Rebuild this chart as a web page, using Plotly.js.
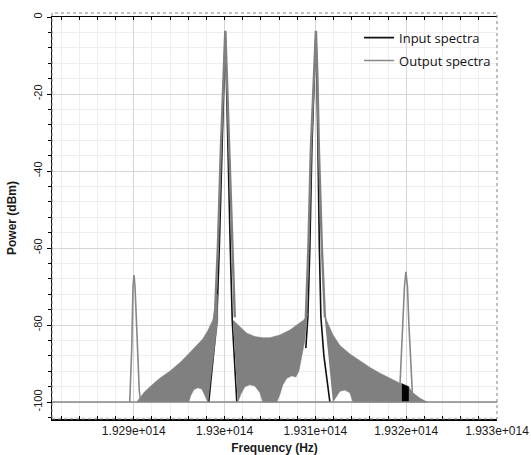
<!DOCTYPE html>
<html>
<head>
<meta charset="utf-8">
<script src="https://cdn.plot.ly/plotly-3.0.1.min.js"></script>
<style>html,body{margin:0;padding:0;background:#fff;}#chart{width:531px;height:455px;}</style>
</head>
<body>
<div id="chart"></div>
<script>
// ---- Data (frequency in THz, power in dBm) ----
// Input spectra: two pump lines (left and right), separated by null
const inputPeakFreqTHz = [192.9826,192.9915,192.9942,192.9970,192.9992,193.0008,193.0019,193.0036,193.0063,193.0085,193.0135, null,
  193.0895,193.0917,193.0939,193.0961,193.0989,193.1006,193.1017,193.1028,193.1044,193.1061,193.1094,193.1160];
const inputPeakPower = [-100,-79,-60,-34.5,-15,-4,-15,-34.5,-60,-79,-100, null,
  -86,-78,-60,-34.5,-15,-4,-15,-34.5,-60,-78,-88,-100];
// Input spectra residual near 1.932e14
const inputBlockFreqTHz = [193.1948,193.1948,193.2030,193.2030];
const inputBlockPower = [-100,-95.2,-96.0,-100];

// Output spectra: noise / mixing floor outlines (regions, null separated)
const outputNoiseFreqTHz = [
  192.9033,192.9121,192.9209,192.9287,192.9397,192.9507,192.9584,192.9672,192.9760,192.9815,192.9871,192.9904,192.9920,
  192.9926,192.9871,192.9815,192.9782,192.9749,192.9705,192.9661,192.9628,192.9606, null,
  193.0091,193.0168,193.0245,193.0333,193.0421,193.0499,193.0609,193.0719,193.0796,193.0873,193.0912,
  193.0884,193.0851,193.0818,193.0785,193.0741,193.0686,193.0642,193.0609,193.0576,193.0421,193.0388,193.0333,193.0278,193.0223,193.0179,193.0146, null,
  193.1094,193.1127,193.1193,193.1270,193.1380,193.1490,193.1601,193.1711,193.1821,193.1948,
  193.1948,193.1413,193.1380,193.1325,193.1270,193.1226,193.1193, null,
  193.2030,193.2074,193.2152,193.2229,193.2030];
const outputNoisePower = [
  -100,-97.3,-95.4,-93.8,-92,-89.8,-88,-85.8,-83.6,-81.5,-78.7,-74,-72,
  -79,-90,-100,-98.2,-96.6,-96.3,-96.8,-98.3,-100, null,
  -78.7,-80.5,-82.1,-83,-83.3,-83.3,-82.6,-81.3,-80,-78.7,-77,
  -84,-88,-92,-93.5,-93.2,-93.8,-95.5,-98,-100,-100,-97.5,-95.8,-95.5,-96,-98,-100, null,
  -76,-79,-82.5,-85.3,-87.5,-89.3,-91,-92.5,-93.9,-95.3,
  -100,-100,-97.6,-96.9,-97.2,-98.8,-100, null,
  -96.2,-97.6,-99,-100,-100];

// Output spectra lines: floor and idler (FWM) products
const outputLineFreqTHz = [192.81,193.30, null,
  192.8956,192.8978,192.8992,192.9003,192.9014,192.9028,192.9044,192.9061,192.9077, null,
  193.1931,193.1953,193.1981,193.1997,193.2014,193.2030,193.2052,193.2069];
const outputLinePower = [-100,-100, null,
  -100,-86,-70,-67,-70,-79,-90,-97,-100, null,
  -96,-85,-70,-66.2,-70,-80,-92,-98];
// Output spectra pump flanks
const outputPeakFreqTHz = [
  192.9893,192.9926,192.9959,192.9986,193.0008,193.0025,193.0052,193.0085,193.0113, null,
  193.0895,193.0923,193.0950,193.0983,193.1006,193.1022,193.1039,193.1072,193.1105];
const outputPeakPower = [
  -78,-60,-34.5,-15,-3.6,-15,-34.5,-60,-78, null,
  -78,-60,-34.5,-15,-3.6,-15,-34.5,-60,-78];

const xTickVals = [1.929e14, 1.930e14, 1.931e14, 1.932e14, 1.933e14];
const xTickText = ["1.929e+014", "1.93e+014", "1.931e+014", "1.932e+014", "1.933e+014"];
const yTickVals = [0, -20, -40, -60, -80, -100];
const yTickText = ["0", "-20", "-40", "-60", "-80", "-100"];

const toHz = a => a.map(v => v === null ? null : v * 1e12);

const traces = [
  {x: toHz(inputPeakFreqTHz), y: inputPeakPower, type: 'scatter', mode: 'lines', name: 'Input spectra',
   legendgroup: 'in', line: {color: '#111111', width: 1.6}, connectgaps: false, hoverinfo: 'skip'},
  {x: toHz(inputBlockFreqTHz), y: inputBlockPower, type: 'scatter', mode: 'lines', fill: 'toself',
   fillcolor: '#000000', line: {color: '#000000', width: 0.5}, legendgroup: 'in', showlegend: false, hoverinfo: 'skip'},
  {x: toHz(outputNoiseFreqTHz), y: outputNoisePower, type: 'scatter', mode: 'lines', fill: 'toself',
   fillcolor: '#808080', line: {color: '#808080', width: 0.6}, legendgroup: 'out', showlegend: false,
   connectgaps: false, hoverinfo: 'skip'},
  {x: toHz(outputLineFreqTHz), y: outputLinePower, type: 'scatter', mode: 'lines', name: 'Output spectra',
   legendgroup: 'out', line: {color: '#888888', width: 1.6}, connectgaps: false, hoverinfo: 'skip'},
  {x: toHz(outputPeakFreqTHz), y: outputPeakPower, type: 'scatter', mode: 'lines', showlegend: false,
   legendgroup: 'out', line: {color: '#808080', width: 2.4}, connectgaps: false, hoverinfo: 'skip'}
];

const axisFont = {family: 'Liberation Sans, Arial, sans-serif', size: 12, color: '#1a1a1a'};

const layout = {
  width: 531, height: 455,
  margin: {l: 52, r: 34, t: 17, b: 36, pad: 0},
  paper_bgcolor: '#ffffff', plot_bgcolor: '#ffffff',
  showlegend: true,
  legend: {x: 0.69, y: 0.986, xanchor: 'left', yanchor: 'top', bgcolor: 'rgba(0,0,0,0)',
           font: {family: 'Open Sans, sans-serif', size: 13, color: '#111'},
           traceorder: 'grouped', tracegroupgap: 3},
  xaxis: {
    range: [1.9281e14, 1.933e14], tickmode: 'array', tickvals: xTickVals, ticktext: xTickText,
    ticks: 'inside', ticklen: 3, tickcolor: '#000', tickwidth: 1,
    showline: true, linecolor: '#000', linewidth: 1.5, mirror: 'allticks',
    showgrid: true, gridcolor: '#d6d6d6', gridwidth: 1, zeroline: false,
    tickfont: axisFont,
    minor: {tickmode: 'linear', tick0: 1.929e14, dtick: 2e10, ticks: 'inside', ticklen: 3,
            tickcolor: '#000', showgrid: true, gridcolor: '#eeeeee', gridwidth: 1},
    title: {text: '<b>Frequency (Hz)</b>', font: {family: 'Liberation Sans, Arial, sans-serif', size: 12, color: '#1a1a1a'}, standoff: 6}
  },
  yaxis: {
    range: [-104.4, 0], tickmode: 'array', tickvals: yTickVals, ticktext: yTickText, tickangle: -90,
    ticks: 'outside', ticklen: 4, tickcolor: '#000', tickwidth: 1,
    showline: true, linecolor: '#000', linewidth: 1.5, mirror: false,
    showgrid: true, gridcolor: '#d6d6d6', gridwidth: 1, zeroline: false,
    tickfont: {family: 'Liberation Sans, Arial, sans-serif', size: 11, color: '#1a1a1a'},
    minor: {tickmode: 'linear', tick0: 0, dtick: 4, ticks: 'outside', ticklen: 3,
            tickcolor: '#000', showgrid: true, gridcolor: '#eeeeee', gridwidth: 1},
    title: {text: '<b>Power (dBm)</b>', font: {family: 'Liberation Sans, Arial, sans-serif', size: 12, color: '#1a1a1a'}, standoff: 13}
  },
  shapes: [
    {type: 'rect', xref: 'paper', yref: 'paper', x0: 0, x1: 1, y0: 0, y1: 1.01,
     line: {color: '#808080', width: 1, dash: 'dot'}, layer: 'above'}
  ]
};

Plotly.newPlot('chart', traces, layout, {staticPlot: true, displayModeBar: false});
</script>
</body>
</html>
